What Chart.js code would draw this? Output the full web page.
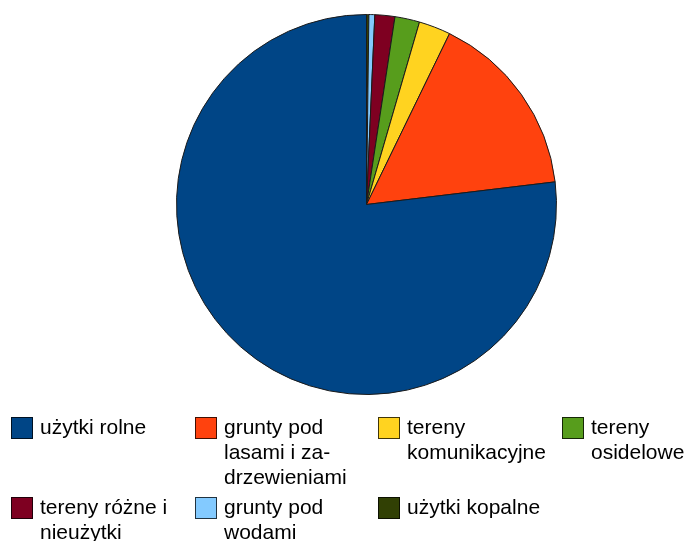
<!DOCTYPE html>
<html>
<head>
<meta charset="utf-8">
<script src="https://cdn.jsdelivr.net/npm/chart.js@4/dist/chart.umd.min.js"></script>
<style>
  html, body { margin: 0; padding: 0; background: #fff; }
  #wrap { position: relative; width: 687px; height: 541px; overflow: hidden; }
  #c { position: absolute; left: 0; top: 0; }
  .item { position: absolute; font-family: "Liberation Sans", Arial, sans-serif; font-size: 21px; line-height: 25px; color: #000; }
  .box { position: absolute; width: 20px; height: 20px; border: 1px solid rgba(0,0,0,0.75); }
  .txt { position: absolute; white-space: nowrap; }
</style>
</head>
<body>
<div id="wrap">
  <canvas id="c" width="687" height="541"></canvas>
  <div id="legend"></div>
</div>
<script>
// Data (share of land area, %), in legend order
const categories = ["użytki rolne", "grunty pod lasami i zadrzewieniami", "tereny komunikacyjne", "tereny osidelowe", "tereny różne i nieużytki", "grunty pod wodami", "użytki kopalne"];
const legendLines = [["użytki rolne"], ["grunty pod", "lasami i za-", "drzewieniami"], ["tereny", "komunikacyjne"], ["tereny", "osidelowe"], ["tereny różne i", "nieużytki"], ["grunty pod", "wodami"], ["użytki kopalne"]];
const values = [76.9, 15.9, 2.7, 2.1, 1.7, 0.5, 0.2];
const colors = ["#004586", "#ff420e", "#ffd320", "#579d1c", "#7e0021", "#83caff", "#314004"];

// Pie is drawn counter-clockwise from the top in the reference: reverse for Chart.js (clockwise)
const revValues = values.slice().reverse();
const revLabels = categories.slice().reverse();
const revColors = colors.slice().reverse();

new Chart(document.getElementById('c'), {
  type: 'pie',
  data: {
    labels: revLabels,
    datasets: [{
      data: revValues,
      backgroundColor: revColors,
      borderColor: '#1a1a1a',
      borderWidth: 1,
      hoverOffset: 0
    }]
  },
  options: {
    responsive: false,
    animation: false,
    rotation: 0,
    layout: { padding: { left: 176, right: 130, top: 14, bottom: 146 } },
    plugins: { legend: { display: false }, tooltip: { enabled: false } },
    events: []
  }
});

// HTML legend, 4 columns
const colX = [11, 195, 378, 562];
const rowY = [417, 497];
const lg = document.getElementById('legend');
categories.forEach((cat, i) => {
  const col = i % 4, row = Math.floor(i / 4);
  const bx = colX[col], by = rowY[row];
  const box = document.createElement('div');
  box.className = 'box';
  box.style.left = bx + 'px';
  box.style.top = by + 'px';
  box.style.background = colors[i];
  const t = document.createElement('div');
  t.className = 'item txt';
  t.style.left = (bx + 29) + 'px';
  t.style.top = (by - 3) + 'px';
  t.innerHTML = legendLines[i].join('<br>');
  lg.appendChild(box);
  lg.appendChild(t);
});
</script>
</body>
</html>
